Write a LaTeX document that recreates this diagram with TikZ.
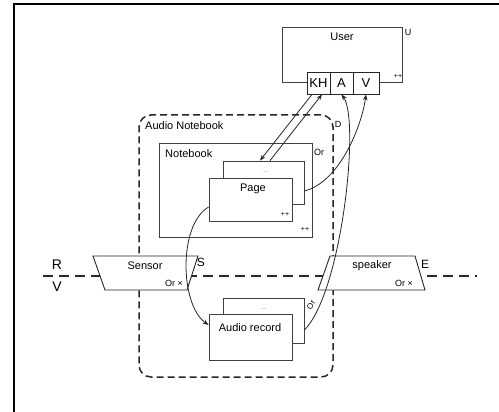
\documentclass[tikz,border=0pt]{standalone}
\usepackage{fontspec}
\setmainfont{Liberation Sans}
\usetikzlibrary{arrows.meta}
\begin{document}
\begin{tikzpicture}[x=1pt,y=-1pt,
  box/.style={draw=black!75,line width=0.8pt,fill=white,inner sep=0pt},
  cell/.style={draw=black!85,line width=0.8pt,fill=white,inner sep=0pt,minimum height=22pt,font=\fontsize{13}{15}\selectfont},
  lbl/.style={inner sep=0pt,font=\fontsize{11}{13}\selectfont},
  sm/.style={inner sep=0pt,font=\fontsize{9}{10}\selectfont},
  tiny/.style={inner sep=0pt,font=\fontsize{7}{8}\selectfont},
  trap/.style={draw=black!85,line width=0.9pt,fill=white},
  arr/.style={-{Stealth[length=6pt,width=4.5pt]},line width=0.8pt,draw=black!85}]
\useasboundingbox (0,0) rectangle (499,412);
% frame
\draw[line width=2pt] (13.5,4.5) -- (499,4.5);
\draw[line width=2pt] (13.5,3.5) -- (13.5,412);
% horizontal dashed boundary
\coordinate (hl) at (43,276);
\coordinate (hr) at (477,276);
\draw[line width=1.1pt,dash pattern=on 10pt off 6pt,black!85] (hl) -- (hr);
\node[inner sep=0pt,font=\fontsize{14}{16}\selectfont,fill=white] (r) at (57,265) {R};
\node[inner sep=0pt,font=\fontsize{14}{16}\selectfont,fill=white] (v) at (57,287) {V};
% Audio Notebook
\node[draw=black!85,line width=1.5pt,dash pattern=on 7pt off 4pt,rounded corners=12pt,minimum width=194pt,minimum height=262pt,inner sep=0pt] (an) at (236,246) {};
\node[lbl,anchor=west] (anl) at (145,126) {Audio Notebook};
\node[sm] (d) at (338,124) {D};
% Notebook
\node[box,fill=none,minimum width=153pt,minimum height=94pt] (nb) at (235.5,190) {};
\node[lbl,anchor=west] (nbl) at (165,154) {Notebook};
\node[sm] (nbor) at (319,152) {Or};
\node[tiny] (nbpp) at (305,229) {++};
% Pages
\node[box,minimum width=81pt,minimum height=43pt] (pageback) at (263.5,182.5) {};
\node[tiny,text=black!45] (pbdots) at (266,172) {...};
\node[box,minimum width=83pt,minimum height=43pt] (pagefront) at (250.5,199.5) {};
\node[lbl] (pagel) at (253,189) {Page};
\node[tiny] (pfpp) at (285,214) {++};
% Audio records
\node[box,minimum width=81pt,minimum height=45pt] (audioback) at (263.5,320.5) {};
\node[tiny,text=black!45] (abdots) at (264,309) {...};
\node[box,minimum width=83pt,minimum height=46pt] (audiofront) at (250.5,337) {};
\node[lbl] (audiol) at (250,328) {Audio record};
\node[inner sep=0pt,font=\fontsize{8}{9}\selectfont,rotate=60] (abor) at (311,305) {Or};
% Sensor
\draw[trap] (93,256) -- (198,256) -- (187,290) -- (105,290) -- cycle;
\node[lbl] (sensorl) at (145,266) {Sensor};
\node[sm] (sensoror) at (174,283) {Or ×};
\node[inner sep=0pt,font=\fontsize{12}{14}\selectfont] (s) at (201,262) {S};
% Speaker
\draw[trap] (330,256) -- (415,256) -- (425,290) -- (318,290) -- cycle;
\node[lbl] (speakerl) at (372,266) {speaker};
\node[sm] (speakeror) at (404,283) {Or ×};
\node[inner sep=0pt,font=\fontsize{12}{14}\selectfont] (e) at (425,264) {E};
% User
\node[box,minimum width=120pt,minimum height=55pt] (user) at (342,54.5) {};
\node[lbl] (userl) at (342,37) {User};
\node[sm] (u) at (408,32) {U};
\node[tiny] (upp) at (398,76) {++};
\node[cell,minimum width=23pt] (kh) at (318.5,83) {KH};
\node[cell,minimum width=23pt] (a) at (341.5,83) {A};
\node[cell,minimum width=26pt] (vv) at (366,83) {V};
% connectors
\draw[arr] ([xshift=-6.5pt]kh.south) -- ([xshift=-3.5pt]pageback.north);
\draw[arr] ([xshift=6.5pt]pageback.north) -- ([xshift=3.5pt]kh.south);
\draw[arr] ([yshift=-8.5pt]pageback.east) .. controls (340,182) and (362,125) .. (vv.south);
\draw[arr] ([yshift=-7.5pt]pagefront.west) .. controls (178,225) and (180,305) .. ([yshift=12pt]audiofront.west);
\draw[arr] ([yshift=-9.5pt]audioback.east) .. controls (342,292) and (360,120) .. (a.south);
\end{tikzpicture}
\end{document}
